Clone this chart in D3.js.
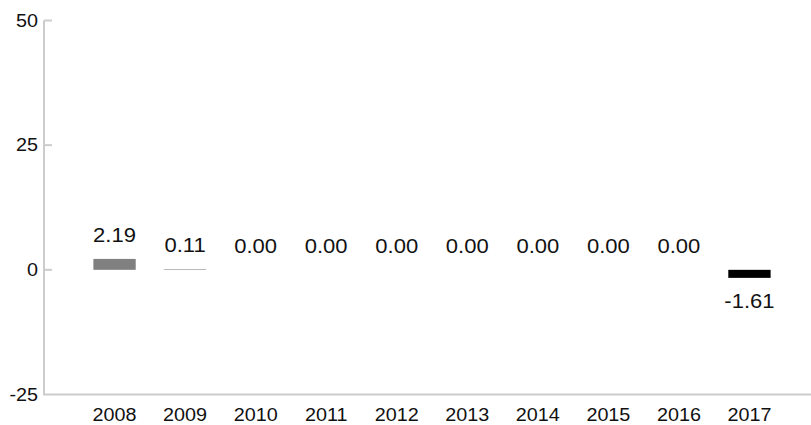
<!DOCTYPE html>
<html>
<head>
<meta charset="utf-8">
<script src="https://cdn.jsdelivr.net/npm/d3@7"></script>
<style>
  body { margin: 0; background: #fff; }
  text { font-family: "Liberation Sans", Arial, sans-serif; fill: #111; }
</style>
</head>
<body>
<div id="chart"></div>
<script>
// Chart data
const years = ["2008", "2009", "2010", "2011", "2012", "2013", "2014", "2015", "2016", "2017"];
const values = [2.19, 0.11, 0.00, 0.00, 0.00, 0.00, 0.00, 0.00, 0.00, -1.61];
const yTicks = [-25, 0, 25, 50];

const width = 811, height = 425;
const axisX = 44, axisY = 394.5;
const stretch = 1.13; // text in the original is a bit wide

const svg = d3.select("#chart")
    .append("svg")
    .attr("width", width)
    .attr("height", height);

const x = d3.scaleBand()
    .domain(years)
    .range([axisX, 820])
    .paddingInner(0.4)
    .paddingOuter(0.7);

const y = d3.scaleLinear()
    .domain([-25, 50])
    .range([axisY, 20.5]);

// Axis lines
svg.append("line")
    .attr("x1", axisX).attr("x2", axisX)
    .attr("y1", y(50)).attr("y2", axisY)
    .style("stroke", "#cccccc").style("stroke-width", 2);

svg.append("line")
    .attr("x1", axisX - 1).attr("x2", width)
    .attr("y1", axisY).attr("y2", axisY)
    .style("stroke", "#cccccc").style("stroke-width", 2);

// Y ticks and labels
const ticks = svg.append("g")
    .selectAll("g")
    .data(yTicks)
    .enter()
    .append("g")
    .attr("transform", d => `translate(0,${y(d)})`);

ticks.filter(d => d !== -25)
    .append("line")
    .attr("x1", axisX).attr("x2", axisX + 8)
    .style("stroke", "#cccccc").style("stroke-width", 2);

ticks.append("text")
    .attr("transform", `translate(${axisX - 6},0) scale(${stretch},1)`)
    .attr("dy", "0.35em")
    .style("text-anchor", "end")
    .style("font-size", "17.5px")
    .text(d => d);

// X labels
svg.append("g")
    .selectAll("text")
    .data(years)
    .enter()
    .append("text")
    .attr("transform", d => `translate(${x(d) + x.bandwidth() / 2},421) scale(${stretch},1)`)
    .style("text-anchor", "middle")
    .style("font-size", "17.5px")
    .text(d => d);

// Bars
svg.append("g")
    .selectAll("rect")
    .data(values)
    .enter()
    .append("rect")
    .attr("x", (d, i) => x(years[i]))
    .attr("width", x.bandwidth())
    .attr("y", d => y(Math.max(0, d)))
    .attr("height", d => Math.abs(y(d) - y(0)))
    .style("fill", d => d >= 0 ? "#808080" : "#000000");

// Value labels
svg.append("g")
    .selectAll("text")
    .data(values)
    .enter()
    .append("text")
    .attr("transform", (d, i) => {
        const cx = x(years[i]) + x.bandwidth() / 2;
        const cy = d >= 0 ? y(d) - 17 : y(d) + 30;
        return `translate(${cx},${cy}) scale(${stretch},1)`;
    })
    .style("text-anchor", "middle")
    .style("font-size", "19.5px")
    .text(d => d.toFixed(2));
</script>
</body>
</html>
